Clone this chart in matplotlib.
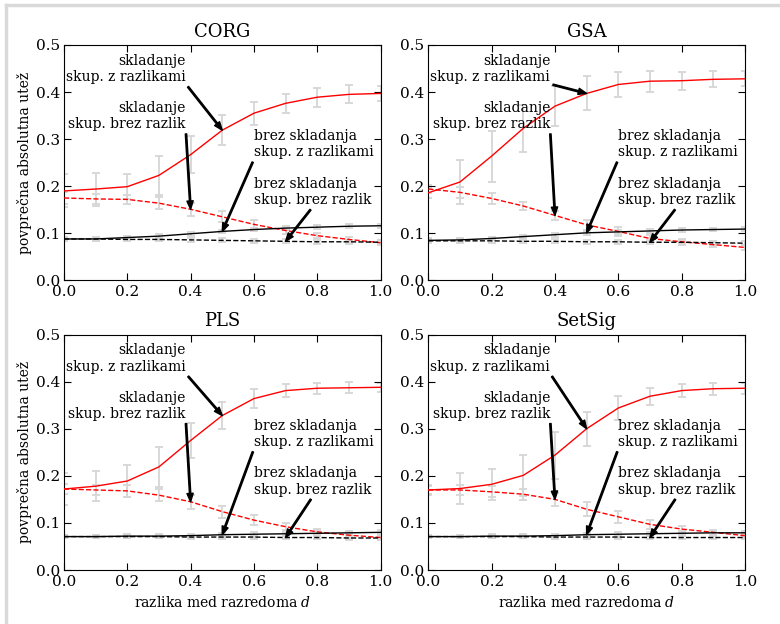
import matplotlib
matplotlib.use("Agg")
import matplotlib.pyplot as plt
from matplotlib.lines import Line2D

plt.rcParams['font.family'] = ['DejaVu Serif']
plt.rcParams['mathtext.fontset'] = 'dejavuserif'

# razlika med razredoma d
d = [0.0, 0.1, 0.2, 0.3, 0.4, 0.5, 0.6, 0.7, 0.8, 0.9, 1.0]

methods = ["CORG", "GSA", "PLS", "SetSig"]

# skladanje, skup. z razlikami (rdeca polna)
stack_diff = {
    "CORG":   [0.190, 0.194, 0.199, 0.223, 0.267, 0.319, 0.355, 0.376, 0.389, 0.395, 0.397],
    "GSA":    [0.186, 0.209, 0.264, 0.323, 0.370, 0.397, 0.416, 0.423, 0.424, 0.427, 0.428],
    "PLS":    [0.172, 0.178, 0.189, 0.219, 0.275, 0.328, 0.364, 0.381, 0.386, 0.387, 0.388],
    "SetSig": [0.170, 0.173, 0.182, 0.201, 0.244, 0.300, 0.344, 0.369, 0.381, 0.385, 0.386],
}
stack_diff_err = {
    "CORG":   [0.035, 0.035, 0.027, 0.042, 0.040, 0.032, 0.024, 0.020, 0.020, 0.019, 0.016],
    "GSA":    [0.010, 0.046, 0.054, 0.050, 0.042, 0.036, 0.027, 0.022, 0.019, 0.017, 0.016],
    "PLS":    [0.033, 0.032, 0.034, 0.042, 0.038, 0.029, 0.021, 0.014, 0.012, 0.012, 0.010],
    "SetSig": [0.010, 0.033, 0.033, 0.044, 0.050, 0.036, 0.025, 0.018, 0.014, 0.013, 0.012],
}
# skladanje, skup. brez razlik (rdeca crtkana)
stack_same = {
    "CORG":   [0.175, 0.173, 0.172, 0.164, 0.151, 0.135, 0.119, 0.106, 0.095, 0.087, 0.080],
    "GSA":    [0.194, 0.187, 0.174, 0.158, 0.138, 0.118, 0.104, 0.089, 0.082, 0.076, 0.070],
    "PLS":    [0.172, 0.170, 0.168, 0.159, 0.145, 0.124, 0.106, 0.092, 0.081, 0.074, 0.069],
    "SetSig": [0.170, 0.170, 0.166, 0.161, 0.150, 0.129, 0.113, 0.097, 0.087, 0.080, 0.073],
}
stack_same_err = {
    "CORG":   [0.012, 0.010, 0.010, 0.013, 0.014, 0.012, 0.010, 0.008, 0.006, 0.005, 0.005],
    "GSA":    [0.008, 0.012, 0.012, 0.009, 0.010, 0.011, 0.009, 0.007, 0.006, 0.006, 0.005],
    "PLS":    [0.010, 0.010, 0.012, 0.012, 0.015, 0.013, 0.010, 0.008, 0.006, 0.005, 0.005],
    "SetSig": [0.008, 0.010, 0.012, 0.012, 0.013, 0.015, 0.013, 0.010, 0.007, 0.006, 0.005],
}
# brez skladanja, skup. z razlikami (crna polna)
plain_diff = {
    "CORG":   [0.088, 0.088, 0.091, 0.094, 0.099, 0.104, 0.108, 0.111, 0.113, 0.115, 0.116],
    "GSA":    [0.085, 0.086, 0.089, 0.093, 0.097, 0.101, 0.103, 0.105, 0.107, 0.108, 0.109],
    "PLS":    [0.071, 0.071, 0.072, 0.072, 0.073, 0.075, 0.076, 0.077, 0.078, 0.079, 0.080],
    "SetSig": [0.071, 0.071, 0.072, 0.072, 0.073, 0.075, 0.076, 0.077, 0.078, 0.079, 0.079],
}
# brez skladanja, skup. brez razlik (crna crtkana)
plain_same = {
    "CORG":   [0.088, 0.088, 0.087, 0.087, 0.086, 0.085, 0.084, 0.083, 0.082, 0.082, 0.081],
    "GSA":    [0.084, 0.084, 0.084, 0.083, 0.083, 0.082, 0.082, 0.081, 0.081, 0.080, 0.079],
    "PLS":    [0.071, 0.071, 0.071, 0.071, 0.070, 0.070, 0.070, 0.069, 0.069, 0.068, 0.068],
    "SetSig": [0.071, 0.071, 0.071, 0.071, 0.070, 0.070, 0.070, 0.069, 0.069, 0.069, 0.069],
}
plain_err = [0.004, 0.004, 0.004, 0.004, 0.004, 0.004, 0.004, 0.004, 0.004, 0.004, 0.004]

labels = ["skladanje\nskup. z razlikami", "skladanje\nskup. brez razlik",
          "brez skladanja\nskup. z razlikami", "brez skladanja\nskup. brez razlik"]

fig, axes = plt.subplots(2, 2, figsize=(7.8, 6.24), dpi=100)
fig.subplots_adjust(left=0.082, right=0.955, top=0.928, bottom=0.0865, wspace=0.151, hspace=0.23)

errc = '#d6d6d6'
arrow = dict(facecolor='black', edgecolor='black', width=1.0, headwidth=4.5, headlength=6, shrink=0.0)

for i, (ax, m) in enumerate(zip(axes.flat, methods)):
    for y, e in [(stack_diff[m], stack_diff_err[m]), (stack_same[m], stack_same_err[m]),
                 (plain_diff[m], plain_err), (plain_same[m], plain_err)]:
        ax.errorbar(d, y, yerr=e, fmt='none', ecolor=errc, elinewidth=1.3, capsize=3, capthick=1.3, zorder=1)
    ax.plot(d, stack_diff[m], color='red', lw=1.0, zorder=3)
    ax.plot(d, stack_same[m], color='red', lw=1.0, ls='--', zorder=3)
    ax.plot(d, plain_diff[m], color='black', lw=1.0, zorder=3)
    ax.plot(d, plain_same[m], color='black', lw=1.0, ls='--', zorder=3)

    ax.annotate(labels[0], xy=(d[5], stack_diff[m][5]), xytext=(0.385, 0.449),
                ha='right', va='center', fontsize=10, arrowprops=arrow, zorder=4)
    ax.annotate(labels[1], xy=(d[4], stack_same[m][4]), xytext=(0.385, 0.349),
                ha='right', va='center', fontsize=10, arrowprops=arrow, zorder=4)
    ax.annotate(labels[2], xy=(d[5], plain_diff[m][5]), xytext=(0.6, 0.289),
                ha='left', va='center', fontsize=10, arrowprops=arrow, zorder=4)
    ax.annotate(labels[3], xy=(d[7], plain_same[m][7]), xytext=(0.6, 0.188),
                ha='left', va='center', fontsize=10, arrowprops=arrow, zorder=4)

    ax.set_xlim(0, 1)
    ax.set_ylim(0, 0.5)
    ax.set_xticks([0.0, 0.2, 0.4, 0.6, 0.8, 1.0])
    ax.set_yticks([0.0, 0.1, 0.2, 0.3, 0.4, 0.5])
    ax.tick_params(direction='in', top=True, right=True, length=5, labelsize=11)
    ax.tick_params(axis='x', pad=3.5)
    ax.tick_params(axis='y', pad=3.0)
    ax.set_title(m, fontsize=13)
    if i % 2 == 0:
        ax.set_ylabel("povprečna absolutna utež", fontsize=10)
        ax.yaxis.set_label_coords(-0.1, 0.5)
    if i >= 2:
        ax.set_xlabel("razlika med razredoma $d$", fontsize=10)
        ax.xaxis.set_label_coords(0.5, -0.105)

# siv okvir strani (zgoraj in levo)
fig.add_artist(Line2D([5.5 / 780, 1], [1 - 5 / 624, 1 - 5 / 624], color='#d9d9d9', lw=2.5))
fig.add_artist(Line2D([5.5 / 780, 5.5 / 780], [0, 1 - 5 / 624], color='#d9d9d9', lw=2.5))

fig.savefig("out.png", dpi=100)
